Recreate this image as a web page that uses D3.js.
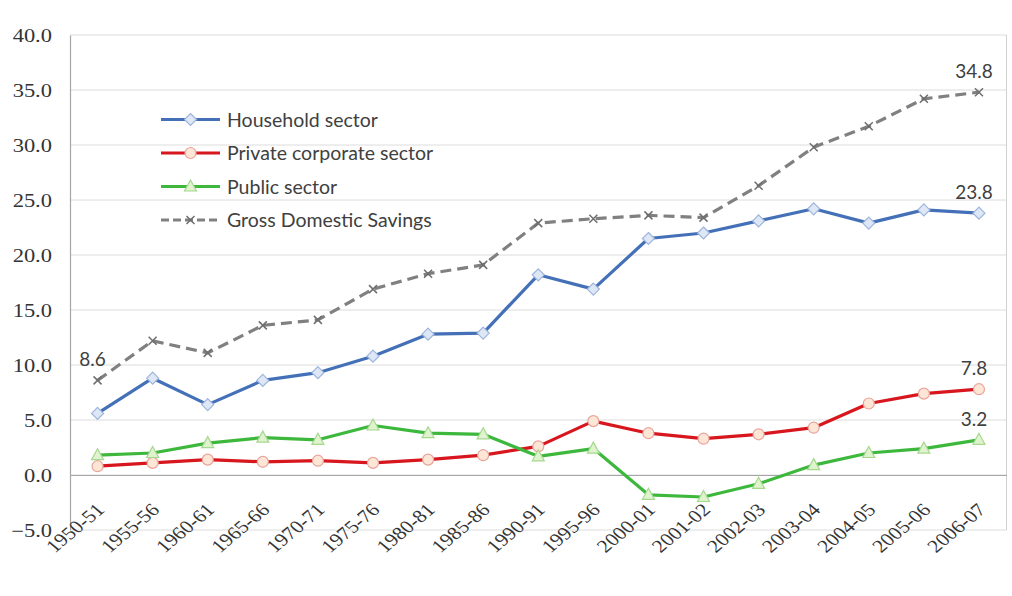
<!DOCTYPE html>
<html>
<head>
<meta charset="utf-8">
<script src="https://cdn.jsdelivr.net/npm/d3@7"></script>
<style>
  html, body { margin: 0; padding: 0; background: #fff; }
  svg { display: block; }
</style>
</head>
<body>
<svg id="chart" width="1012" height="596"></svg>
<script>
// ---- Data ----
const categories = ["1950-51","1955-56","1960-61","1965-66","1970-71","1975-76","1980-81","1985-86","1990-91","1995-96","2000-01","2001-02","2002-03","2003-04","2004-05","2005-06","2006-07"];
const household = [5.6, 8.8, 6.4, 8.6, 9.3, 10.8, 12.8, 12.9, 18.2, 16.9, 21.5, 22.0, 23.1, 24.2, 22.9, 24.1, 23.8];
const privateCorporate = [0.8, 1.1, 1.4, 1.2, 1.3, 1.1, 1.4, 1.8, 2.6, 4.9, 3.8, 3.3, 3.7, 4.3, 6.5, 7.4, 7.8];
const publicSector = [1.8, 2.0, 2.9, 3.4, 3.2, 4.5, 3.8, 3.7, 1.7, 2.4, -1.8, -2.0, -0.8, 0.9, 2.0, 2.4, 3.2];
const grossDomesticSavings = [8.6, 12.2, 11.1, 13.6, 14.1, 16.9, 18.3, 19.1, 22.9, 23.3, 23.6, 23.4, 26.3, 29.8, 31.7, 34.2, 34.8];
const seriesNames = ["Household sector", "Private corporate sector", "Public sector", "Gross Domestic Savings"];
const yTickValues = [-5, 0, 5, 10, 15, 20, 25, 30, 35, 40];
// data labels: [series index, category index]
const dataLabels = [[3, 0], [3, 16], [0, 16], [1, 16], [2, 16]];

// ---- Styles ----
const styles = [
  { color: "#4470b8", marker: "diamond", fill: "#dde7f5", mstroke: "#9db4dc", dash: null },
  { color: "#d8161e", marker: "circle", fill: "#fde6d6", mstroke: "#e9a39b", dash: null },
  { color: "#3db83d", marker: "triangle", fill: "#dff3cf", mstroke: "#a6d88e", dash: null },
  { color: "#808080", marker: "cross", fill: "none", mstroke: "#6e6e6e", dash: "11,6" }
];
const allSeries = [household, privateCorporate, publicSector, grossDomesticSavings];
const SERIF = "Liberation Serif";

const svg = d3.select("#chart");
const plotLeft = 70, plotRight = 1006.5, plotTop = 35, plotBottom = 530;

const x = d3.scaleBand().domain(categories).range([plotLeft, plotRight]).paddingInner(0).paddingOuter(0);
const y = d3.scaleLinear().domain([-5, 40]).range([plotBottom, plotTop]);
const cx = c => x(c) + x.bandwidth() / 2;

// gridlines
svg.append("g")
  .selectAll("line")
  .data(yTickValues)
  .join("line")
  .attr("x1", plotLeft).attr("x2", plotRight)
  .attr("y1", d => y(d)).attr("y2", d => y(d))
  .attr("stroke", "#dcdcdc").attr("stroke-width", 1);

// right border
svg.append("line")
  .attr("x1", plotRight).attr("x2", plotRight).attr("y1", plotTop).attr("y2", plotBottom)
  .attr("stroke", "#d0d0d0").attr("stroke-width", 1);

// y axis
const yAxis = svg.append("g")
  .attr("transform", `translate(${plotLeft},0)`)
  .call(d3.axisLeft(y).tickValues(yTickValues).tickFormat(d3.format(".1f")).tickSize(0).tickPadding(0))
  .attr("font-family", SERIF).attr("font-size", 18);
yAxis.select(".domain").attr("stroke", "#a6a6a6").attr("stroke-width", 1.2);
yAxis.selectAll("text")
  .attr("x", 0).attr("dy", "0.35em")
  .attr("transform", "translate(-18,0) scale(1.25,1)")
  .attr("text-anchor", "end")
  .attr("font-family", SERIF)
  .attr("fill", "#333");

// x axis at 0
const xAxis = svg.append("g")
  .attr("transform", `translate(0,${y(0)})`)
  .call(d3.axisBottom(x).tickSize(0).tickPadding(0))
  .attr("font-family", SERIF).attr("font-size", 18);
xAxis.select(".domain").attr("stroke", "#a6a6a6").attr("stroke-width", 1.2);
xAxis.selectAll("text")
  .attr("x", 0).attr("y", 0).attr("dy", 0)
  .attr("text-anchor", "end")
  .attr("transform", "translate(8,36) scale(1.2,1) rotate(-45)")
  .attr("font-family", SERIF)
  .attr("fill", "#333");

// marker drawer
function drawMarker(g, type, st, px, py) {
  if (type === "diamond") {
    g.append("path").attr("d", `M${px},${py-6}L${px+6},${py}L${px},${py+6}L${px-6},${py}Z`)
      .attr("fill", st.fill).attr("stroke", st.mstroke).attr("stroke-width", 1.2);
  } else if (type === "circle") {
    g.append("circle").attr("cx", px).attr("cy", py).attr("r", 5.5)
      .attr("fill", st.fill).attr("stroke", st.mstroke).attr("stroke-width", 1.2);
  } else if (type === "triangle") {
    g.append("path").attr("d", `M${px},${py-6.5}L${px+6},${py+4.5}L${px-6},${py+4.5}Z`)
      .attr("fill", st.fill).attr("stroke", st.mstroke).attr("stroke-width", 1.2);
  } else if (type === "cross") {
    g.append("path").attr("d", `M${px-4},${py-4}L${px+4},${py+4}M${px-4},${py+4}L${px+4},${py-4}`)
      .attr("fill", "none").attr("stroke", st.mstroke).attr("stroke-width", 1.5);
  }
}

// lines
const line = d3.line().x((d, i) => cx(categories[i])).y(d => y(d));
allSeries.forEach((vals, si) => {
  const st = styles[si];
  const g = svg.append("g");
  g.append("path").datum(vals).attr("d", line)
    .attr("fill", "none").attr("stroke", st.color)
    .attr("stroke-width", 3.2)
    .attr("stroke-linejoin", "round")
    .attr("stroke-dasharray", st.dash);
  vals.forEach((v, i) => drawMarker(g, st.marker, st, cx(categories[i]), y(v)));
});

// data labels
svg.append("g").selectAll("text")
  .data(dataLabels)
  .join("text")
  .attr("x", d => cx(categories[d[1]]) - 5)
  .attr("y", d => y(allSeries[d[0]][d[1]]) - 14)
  .attr("text-anchor", "middle")
  .attr("font-family", "Lato")
  .attr("font-size", 19)
  .attr("fill", "#404040")
  .text(d => d3.format(".1f")(allSeries[d[0]][d[1]]));

// legend
const legend = svg.append("g");
seriesNames.forEach((name, i) => {
  const ly = 119.5 + i * 33.5;
  const st = styles[i];
  const lg = legend.append("g");
  lg.append("line").attr("x1", 161).attr("x2", 220).attr("y1", ly).attr("y2", ly)
    .attr("stroke", st.color).attr("stroke-width", 3.2)
    .attr("stroke-dasharray", st.dash ? "8,4" : null);
  drawMarker(lg, st.marker, st, 190.5, ly);
  lg.append("text").attr("x", 227).attr("y", ly).attr("dy", "0.36em")
    .attr("font-family", "Lato")
    .attr("font-size", 19.5)
    .attr("fill", "#404040")
    .text(name);
});
</script>
</body>
</html>
